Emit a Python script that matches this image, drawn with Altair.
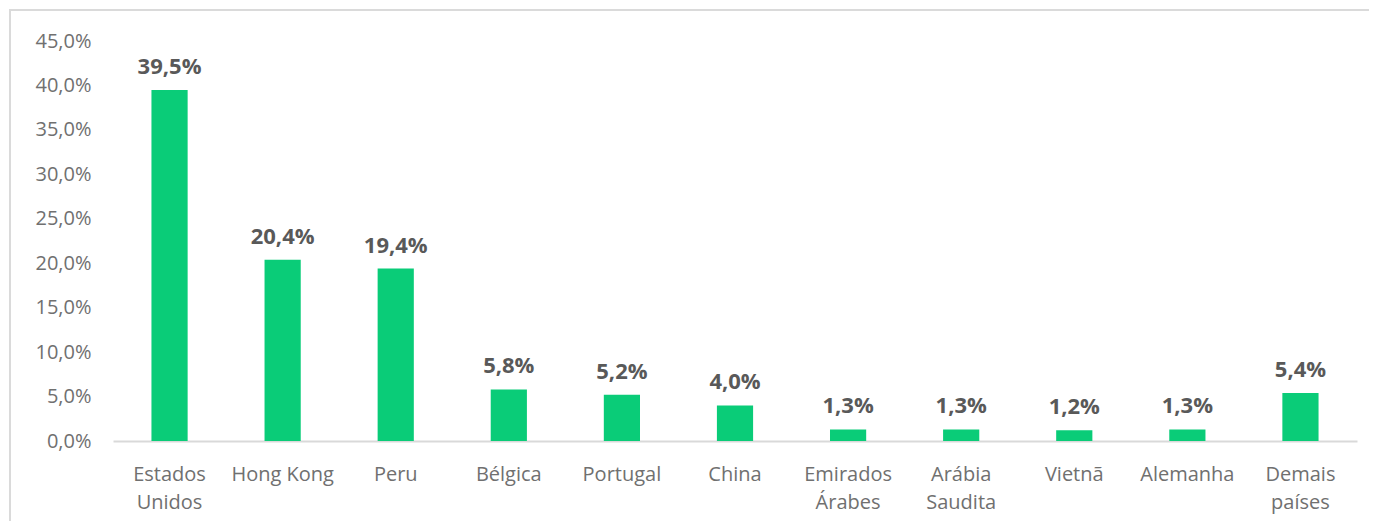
import altair as alt
import pandas as pd

countries = ["Estados Unidos", "Hong Kong", "Peru", "Bélgica", "Portugal", "China",
             "Emirados Árabes", "Arábia Saudita", "Vietnã", "Alemanha", "Demais países"]
shares = [0.395, 0.204, 0.194, 0.058, 0.052, 0.040, 0.013, 0.013, 0.012, 0.013, 0.054]
labels = ["39,5%", "20,4%", "19,4%", "5,8%", "5,2%", "4,0%", "1,3%", "1,3%", "1,2%", "1,3%", "5,4%"]
y_ticks = [0.0, 0.05, 0.10, 0.15, 0.20, 0.25, 0.30, 0.35, 0.40, 0.45]

df = pd.DataFrame({"pais": countries, "valor": shares, "rotulo": labels})

FONT = "Open Sans"
AXIS_GRAY = "#707070"
LABEL_GRAY = "#595959"

x = alt.X("pais:N", sort=countries, title=None,
          scale=alt.Scale(paddingInner=0.68, paddingOuter=0.34),
          axis=alt.Axis(labelAngle=0, labelFont=FONT, labelFontSize=20, labelColor=AXIS_GRAY,
                        labelPadding=23, labelLineHeight=28, ticks=False,
                        domainColor="#D9D9D9", domainWidth=2,
                        labelExpr="datum.label == 'Hong Kong' ? datum.label : split(datum.label, ' ')"))
y = alt.Y("valor:Q", title=None,
          scale=alt.Scale(domain=[0, 0.45], nice=False),
          axis=alt.Axis(values=y_ticks, grid=False, domain=False, ticks=False,
                        labelFont=FONT, labelFontSize=20, labelColor=AXIS_GRAY, labelPadding=22,
                        labelExpr="replace(format(datum.value, '.1%'), '.', ',')"))

base = alt.Chart(df)
one = base.transform_filter("datum.pais == 'Peru'")

frame_top = one.mark_rule(stroke="#DADADA", strokeWidth=2).encode(
    x=alt.value(-103), x2=alt.value(1400), y=alt.value(-31))
frame_left = one.mark_rule(stroke="#DADADA", strokeWidth=2).encode(
    x=alt.value(-103), y=alt.value(-32), y2=alt.value(700))

bars = base.mark_bar(color="#0ACC78").encode(x=x, y=y)

text = base.mark_text(baseline="bottom", dy=-11, font=FONT, fontSize=22,
                      fontWeight="bold", color=LABEL_GRAY).encode(
    x=alt.X("pais:N", sort=countries), y="valor:Q", text="rotulo:N")

chart = alt.layer(frame_top, frame_left, bars, text).properties(
    width=1244, height=400,
    padding={"left": 105, "top": 33, "right": 12, "bottom": 80},
    autosize=alt.AutoSizeParams(type="none"),
).configure_view(stroke=None)

chart.save("out.html", embed_options={"renderer": "svg", "actions": False})
